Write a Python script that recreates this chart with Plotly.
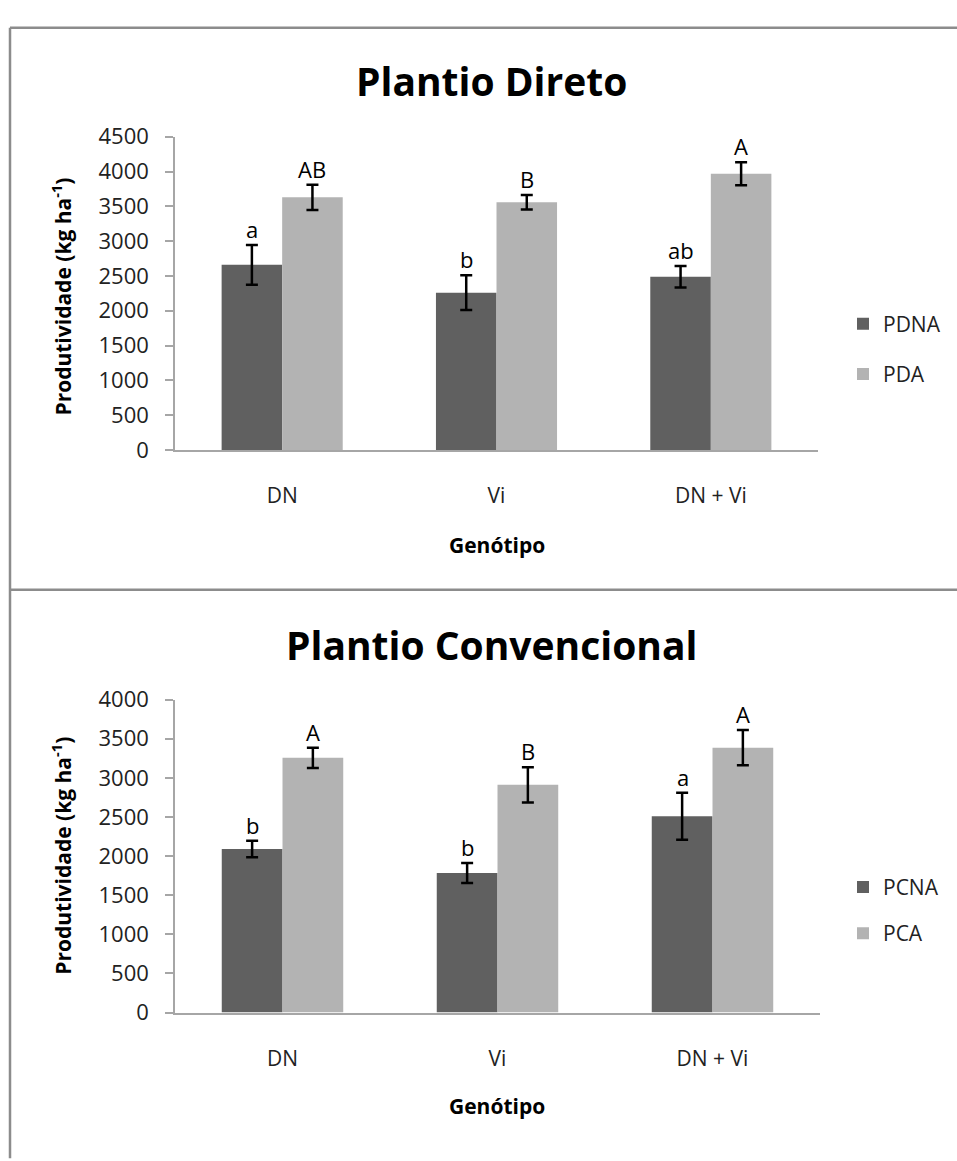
import plotly.graph_objects as go

W, H = 957, 1161

genotypes = ["DN", "Vi", "DN + Vi"]

# Plantio Direto
pdna = [2660, 2260, 2490]
pdna_err = [285, 250, 155]
pda = [3630, 3560, 3970]
pda_err = [180, 105, 165]
pdna_letters = ["a", "b", "ab"]
pda_letters = ["AB", "B", "A"]

# Plantio Convencional
pcna = [2090, 1785, 2510]
pcna_err = [105, 128, 300]
pca = [3255, 2910, 3385]
pca_err = [130, 225, 225]
pcna_letters = ["b", "b", "a"]
pca_letters = ["A", "B", "A"]

dark = "#606060"
light = "#b3b3b3"
axis_gray = "#a6a6a6"
frame_gray = "#8c8c8c"
font_family = "Open Sans"


def px_x(p):
    return p / W


def px_y(p):
    return 1 - p / H


fig = go.Figure()


def add_bar(name, y, err, color, xa, ya, legend):
    fig.add_trace(go.Bar(
        x=genotypes, y=y, name=name,
        marker=dict(color=color, line=dict(width=0)),
        error_y=dict(type="data", array=err, visible=True,
                     color="black", thickness=2.5, width=6),
        xaxis=xa, yaxis=ya, legend=legend, legendgroup=name,
    ))


add_bar("PDNA", pdna, pdna_err, dark, "x", "y", "legend")
add_bar("PDA", pda, pda_err, light, "x", "y", "legend")
add_bar("PCNA", pcna, pcna_err, dark, "x2", "y2", "legend2")
add_bar("PCA", pca, pca_err, light, "x2", "y2", "legend2")

xaxis_common = dict(
    type="category", showgrid=False, zeroline=False,
    showline=True, linecolor=axis_gray, linewidth=1.5,
    ticks="", tickfont=dict(family=font_family, size=21, color="#222222"),
    ticklabelstandoff=26,
)
yaxis_common = dict(
    showgrid=False, zeroline=False, showline=True,
    linecolor=axis_gray, linewidth=1.5,
    ticks="outside", ticklen=8, tickcolor=axis_gray, tickwidth=1.5,
    tickfont=dict(family=font_family, size=22, color="#222222"),
    dtick=500, ticklabelstandoff=12,
)

fig.update_layout(
    width=W, height=H,
    margin=dict(l=0, r=0, t=0, b=0),
    paper_bgcolor="white", plot_bgcolor="white",
    barmode="group", bargap=0.435, bargroupgap=0,
    showlegend=True,
    xaxis=dict(domain=[px_x(175), px_x(818)], anchor="y", **xaxis_common),
    yaxis=dict(domain=[px_y(445.5), px_y(124)], range=[0, 4500],
               anchor="x", **yaxis_common),
    xaxis2=dict(domain=[px_x(175), px_x(820)], anchor="y2", **xaxis_common),
    yaxis2=dict(domain=[px_y(1023), px_y(701.7)], range=[0, 4000],
                anchor="x2", **yaxis_common),
    legend=dict(x=px_x(843), y=px_y(342), xanchor="left", yanchor="middle",
                font=dict(family=font_family, size=21, color="#222222"),
                traceorder="grouped", tracegroupgap=20,
                bgcolor="rgba(0,0,0,0)"),
    legend2=dict(x=px_x(843), y=px_y(918), xanchor="left", yanchor="middle",
                 font=dict(family=font_family, size=21, color="#222222"),
                 traceorder="grouped", tracegroupgap=16,
                 bgcolor="rgba(0,0,0,0)"),
)

annotations = []

# significance letters above the error bars
offset = 30
for xa, ya, vals, errs, letters, shift in [
    ("x", "y", pdna, pdna_err, pdna_letters, -offset),
    ("x", "y", pda, pda_err, pda_letters, offset),
    ("x2", "y2", pcna, pcna_err, pcna_letters, -offset),
    ("x2", "y2", pca, pca_err, pca_letters, offset),
]:
    for g, v, e, t in zip(genotypes, vals, errs, letters):
        annotations.append(dict(
            x=g, y=v + e, xref=xa, yref=ya, text=t, showarrow=False,
            xshift=shift, yanchor="bottom", yshift=-1,
            font=dict(family=font_family, size=22, color="black"),
        ))

title_font = dict(family=font_family, size=39, color="black")
axis_title_font = dict(family=font_family, size=21, color="black")

for title, ty, ytitle_y, xtitle_y in [
    ("<b>Plantio Direto</b>", 66, 288, 543),
    ("<b>Plantio Convencional</b>", 645, 862, 1119),
]:
    annotations.append(dict(
        x=px_x(491), y=px_y(ty), xref="paper", yref="paper",
        text=title, showarrow=False, xanchor="center", yanchor="middle",
        font=title_font,
    ))
    annotations.append(dict(
        x=px_x(62), y=px_y(ytitle_y), xref="paper", yref="paper",
        text="<b>Produtividade (kg ha<sup>-1</sup>)</b>", showarrow=False,
        textangle=-90, xanchor="center", yanchor="middle",
        font=axis_title_font,
    ))
    annotations.append(dict(
        x=px_x(497), y=px_y(xtitle_y), xref="paper", yref="paper",
        text="<b>Genótipo</b>", showarrow=False,
        xanchor="center", yanchor="middle", font=axis_title_font,
    ))

fig.update_layout(annotations=annotations)

# panel frames
frame = dict(color=frame_gray, width=2.5)
fig.update_layout(shapes=[
    dict(type="line", xref="paper", yref="paper",
         x0=px_x(10), x1=1.01, y0=px_y(12), y1=px_y(12), line=frame),
    dict(type="line", xref="paper", yref="paper",
         x0=px_x(10), x1=px_x(10), y0=px_y(12), y1=-0.01, line=frame),
    dict(type="line", xref="paper", yref="paper",
         x0=px_x(10), x1=1.01, y0=px_y(589), y1=px_y(589), line=frame),
])

fig.write_html("out.html")
